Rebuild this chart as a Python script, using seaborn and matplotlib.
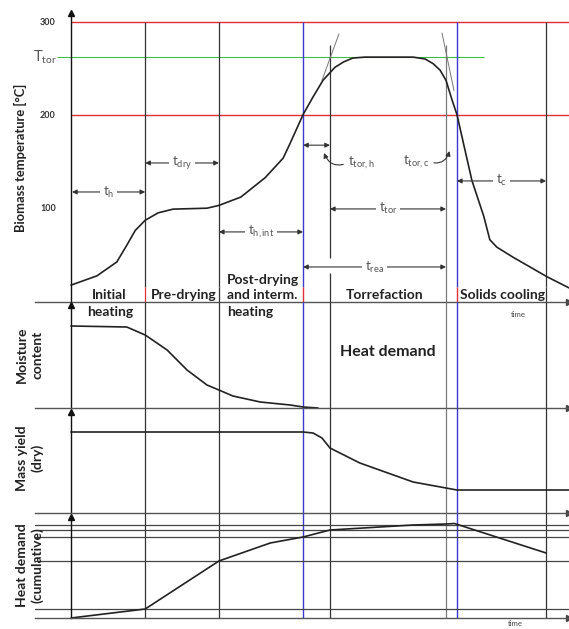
import numpy as np
import pandas as pd
import seaborn as sns
import matplotlib.pyplot as plt

# time axis in arbitrary units: 0 = start of heating, 100 = right edge
phase_lines = [14.9, 29.7, 95.4]      # black phase boundaries
blue_lines = [46.6, 77.5]             # biomass crosses 200 C
tor_start = 52.0                      # tangent intersections
tor_end = 75.3
T_TOR = 262

temp_time = [0, 5.2, 9.2, 11.2, 12.9, 14.9, 17.5, 20.5, 27.3, 29.7, 34.1, 39.0,
             42.6, 44.0, 46.6, 48.6, 50.6, 53.0, 54.8, 56.6, 59.0, 68.7, 71.1,
             72.7, 74.1, 75.3, 76.5, 77.5, 79.1, 80.5, 82.9, 84.1, 85.5, 88.8,
             95.6, 100]
temp_val = [16, 26, 41, 59, 75, 86, 94, 98, 99, 102, 111, 132,
            153, 169, 200, 219, 237, 251, 257, 261, 262, 262, 260,
            255, 248, 237, 216, 200, 162, 129, 90, 65, 57, 46,
            25, 13]

moist_time = [0, 11.2, 14.9, 19.3, 23.3, 27.3, 29.7, 32.5, 38.0, 44.0, 46.6, 49.6]
moist_val = [82, 81, 73, 58, 38, 23, 18, 12, 6, 3, 1, 0]

yield_time = [0, 46.6, 48.6, 50.4, 52.0, 58.0, 68.7, 75.3, 77.5, 100]
yield_val = [81, 81, 80, 75, 65, 50, 31, 25, 23, 23]

heat_time = [0, 14.9, 29.7, 40.0, 46.6, 52.0, 68.7, 75.3, 77.0, 95.4]
heat_val = [0, 9, 57, 75, 81, 88, 93, 94, 94.5, 65]
heat_levels = [9, 57, 81, 88, 93]

sns.set_style("white")
plt.rcParams['font.family'] = ['Lato', 'DejaVu Sans']
plt.rcParams['mathtext.fontset'] = 'custom'
plt.rcParams['mathtext.rm'] = 'Lato'
plt.rcParams['mathtext.it'] = 'Lato:italic'
plt.rcParams['mathtext.bf'] = 'Lato:bold'

W, H = 569, 629
fig = plt.figure(figsize=(W / 100, H / 100), dpi=100)


def box(top, bottom):
    return [35 / W, (H - bottom) / H, 1 - 35 / W, (bottom - top) / H]


def px(x, y):
    return x / W, (H - y) / H


RED = '#e0303a'
BLUE = '#3a3ad0'
GREEN = '#3fbf4a'
DARK = '#333333'
XLIM = (-7.23, 100)

ax1 = fig.add_axes(box(13, 302))
ax2 = fig.add_axes(box(302, 408))
ax3 = fig.add_axes(box(408, 513))
ax4 = fig.add_axes(box(513, 618))
lims = {ax1: (-2.2, 309.6), ax2: (0, 106), ax3: (0, 105), ax4: (0, 105)}
tops = {ax1: 309.6, ax2: 103, ax3: 101, ax4: 101}

for ax in [ax1, ax2, ax3, ax4]:
    ax.set_xlim(*XLIM)
    ax.set_ylim(*lims[ax])
    ax.set_facecolor('none')
    for s in ['top', 'right']:
        ax.spines[s].set_visible(False)
    ax.spines['left'].set_position(('data', 0))
    ax.spines['left'].set_bounds(lims[ax][0], tops[ax])
    ax.spines['left'].set_color('#111111')
    ax.spines['left'].set_linewidth(1.0)
    ax.spines['bottom'].set_color('#555555')
    ax.spines['bottom'].set_linewidth(1.0)
    ax.set_xticks([])
    ax.set_xlabel('')
    ax.set_ylabel('')
    ax.plot(0, tops[ax], marker='^', ms=5, color='#111111', clip_on=False)
    ax.plot(100, lims[ax][0], marker='>', ms=5, color='#444444', clip_on=False)

# ---- panel 1: biomass temperature ----
ax1.hlines([300, 200], 0, 100, color=RED, lw=1.0)
ax1.hlines(T_TOR, -2.8, 83, color=GREEN, lw=0.8)
ax1.vlines(phase_lines, 14, 300, color=DARK, lw=0.9)
ax1.vlines(phase_lines[0], -2.2, 14, color=RED, lw=0.9)
ax1.vlines(phase_lines[1:], -2.2, 14, color=DARK, lw=0.9)
ax1.vlines(blue_lines, 14, 300, color=BLUE, lw=1.0)
ax1.vlines(blue_lines, -2.2, 14, color=RED, lw=1.0)
ax1.vlines(tor_start, 45.3, 275, color=DARK, lw=0.9)
ax1.vlines(tor_start, -2.2, 29.1, color=DARK, lw=0.9)
ax1.vlines(tor_end, -2.2, 275, color='#7a7a7a', lw=0.9)
# tangents at the plateau corners
ax1.plot([50.4, 53.8], [237, 287], color='#777777', lw=0.7)
ax1.plot([74.5, 76.9], [288, 226], color='#777777', lw=0.7)

sns.lineplot(x=temp_time, y=temp_val, ax=ax1, color='#222222', lw=1.2,
             sort=False, estimator=None)
ax1.set_ylabel('')

ax1.set_yticks([100, 200, 300])
ax1.set_yticklabels(['100', '200', '300'], fontsize=6.5, fontweight='bold',
                    color='#333333')
ax1.tick_params(axis='y', length=0, pad=11)
ax1.text(-2.9, T_TOR, r'T$_{\mathrm{tor}}$', ha='right', va='center',
         fontsize=10.5, color='#555555')

arrow_kw = dict(arrowstyle='<|-|>', color=DARK, lw=0.8, mutation_scale=7,
                shrinkA=0, shrinkB=0)
lab_kw = dict(ha='center', va='center', fontsize=9.5, color='#555555',
              bbox=dict(fc='white', ec='none', pad=2.0))


def span(t0, t1, y, label):
    ax1.annotate('', xy=(t1, y), xytext=(t0, y), arrowprops=arrow_kw)
    ax1.text((t0 + t1) / 2, y, label, **lab_kw)


span(0.2, phase_lines[0], 116.5, r't$_{\mathrm{h}}$')
span(phase_lines[0], phase_lines[1], 147.8, r't$_{\mathrm{dry}}$')
span(phase_lines[1], blue_lines[0], 73.4, r't$_{\mathrm{h,int}}$')
span(tor_start, tor_end, 98.2, r't$_{\mathrm{tor}}$')
span(blue_lines[0], tor_end, 35.6, r't$_{\mathrm{rea}}$')
span(blue_lines[1], phase_lines[2], 128.4, r't$_{\mathrm{c}}$')
ax1.annotate('', xy=(tor_start, 167), xytext=(blue_lines[0], 167),
             arrowprops=arrow_kw)
ax1.annotate(r't$_{\mathrm{tor,h}}$', xy=(50.8, 158.6), xytext=(58.3, 147.8),
             ha='center', va='center', fontsize=9.5, color='#555555',
             arrowprops=dict(arrowstyle='-|>', color=DARK, lw=0.8,
                             mutation_scale=7, relpos=(0, 0.5), shrinkA=1,
                             shrinkB=0, connectionstyle='arc3,rad=-0.5'))
ax1.annotate(r't$_{\mathrm{tor,c}}$', xy=(76.0, 160.7), xytext=(69.3, 148.9),
             ha='center', va='center', fontsize=9.5, color='#555555',
             arrowprops=dict(arrowstyle='-|>', color=DARK, lw=0.8,
                             mutation_scale=7, relpos=(1, 0.5), shrinkA=1,
                             shrinkB=0, connectionstyle='arc3,rad=0.5'))

# ---- lower panels ----
for ax in [ax2, ax3, ax4]:
    ax.vlines(phase_lines + [tor_start], *lims[ax], color=DARK, lw=0.9)
    ax.vlines(tor_end, *lims[ax], color='#7a7a7a', lw=0.9)
    ax.vlines(blue_lines, *lims[ax], color=BLUE, lw=1.0)

for lv in heat_levels:
    ax4.axhline(lv, color='#444444', lw=0.9)

sns.lineplot(x=moist_time, y=moist_val, ax=ax2, color='#222222', lw=1.2,
             sort=False, estimator=None)
sns.lineplot(x=yield_time, y=yield_val, ax=ax3, color='#222222', lw=1.2,
             sort=False, estimator=None)
sns.lineplot(x=heat_time, y=heat_val, ax=ax4, color='#222222', lw=1.2,
             sort=False, estimator=None)
for ax in [ax2, ax3, ax4]:
    ax.set_yticks([])
    ax.set_ylabel('')

# ---- text ----
fig.text(*px(20, 158), 'Biomass temperature [°C]', rotation=90, ha='center',
         va='center', fontsize=9.3, fontweight='bold', color='#222222')
for label, yc in [('Moisture\ncontent', 355), ('Mass yield\n(dry)', 458),
                  ('Heat demand\n(cumulative)', 565)]:
    fig.text(*px(29.5, yc), label, rotation=90, ha='center', va='center',
             fontsize=10, fontweight='bold', color='#222222',
             linespacing=1.3, multialignment='center')

phase_kw = dict(va='center', fontsize=10, fontweight='bold', color='#222222')
fig.text(*px(109, 295), 'Initial', ha='center', **phase_kw)
fig.text(*px(110, 312), 'heating', ha='center', **phase_kw)
fig.text(*px(184, 295), 'Pre-drying', ha='center', **phase_kw)
fig.text(*px(227, 280), 'Post-drying', ha='left', **phase_kw)
fig.text(*px(227, 295), 'and interm.', ha='left', **phase_kw)
fig.text(*px(227, 312), 'heating', ha='left', **phase_kw)
fig.text(*px(385, 295), 'Torrefaction', ha='center', **phase_kw)
fig.text(*px(503, 295), 'Solids cooling', ha='center', **phase_kw)
fig.text(*px(388, 352), 'Heat demand', ha='center', va='center',
         fontsize=11.5, fontweight='bold', color='#222222')
fig.text(*px(518, 314), 'time', ha='center', va='center', fontsize=5.5,
         color='#444444')
fig.text(*px(515, 624), 'time', ha='center', va='center', fontsize=5.5,
         color='#444444')

fig.savefig('out.png', dpi=100)
